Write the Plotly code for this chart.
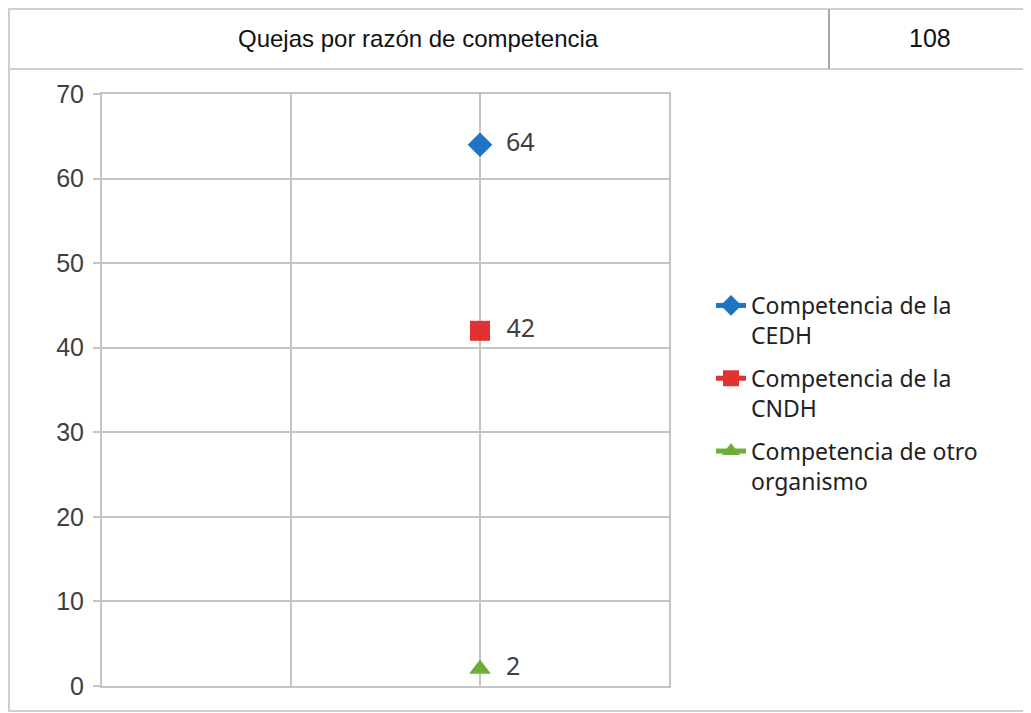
import plotly.graph_objects as go

# Data
series_names = [
    "Competencia de la<br>CEDH",
    "Competencia de la<br>CNDH",
    "Competencia de otro<br>organismo",
]
series_values = [64, 42, 2]
series_x = [2, 2, 2]
series_colors = ["#1F74C4", "#E03232", "#6EAD3A"]
series_symbols = ["diamond", "square", "triangle-up"]
marker_sizes = [19, 20, 19]

header_label = "Quejas por razón de competencia"
header_total = "108"

y_ticks = [0, 10, 20, 30, 40, 50, 60, 70]

# page-pixel layout (browser adds an 8px body margin)
OFF = 8
W, H = 1031 - OFF, 713 - OFF
L, R, T, B = 102, 669, 94, 686  # plot area, page pixels

GRID = "#C4C4C4"
TEXT = "#404040"


def px_x(x):
    return (x - L) / (R - L)


def px_y(y):
    return (B - y) / (B - T)


fig = go.Figure()

for name, val, x, color, sym, size in zip(
    series_names, series_values, series_x, series_colors, series_symbols, marker_sizes
):
    fig.add_trace(
        go.Scatter(
            x=[x],
            y=[val],
            name=name,
            legendgroup=name,
            mode="lines+markers+text",
            text=["  " + str(val)],
            textposition="middle right",
            textfont=dict(size=25, color=TEXT, family="Noto Sans"),
            line=dict(color=color, width=5),
            marker=dict(color=color, symbol=sym, size=size),
            cliponaxis=False,
        )
    )

shapes = [
    # outer frame
    dict(type="rect", xref="paper", yref="paper",
         x0=px_x(9), x1=px_x(1028), y0=px_y(711), y1=px_y(9),
         line=dict(color="#D0D0D0", width=2), layer="below"),
    # header bottom line
    dict(type="line", xref="paper", yref="paper",
         x0=px_x(9), x1=px_x(1028), y0=px_y(69), y1=px_y(69),
         line=dict(color="#D0D0D0", width=2)),
    # header column separator
    dict(type="line", xref="paper", yref="paper",
         x0=px_x(829), x1=px_x(829), y0=px_y(9), y1=px_y(69),
         line=dict(color="#A8A8A8", width=2)),
]

annotations = [
    dict(text=header_label, xref="paper", yref="paper",
         x=px_x(418), y=px_y(38), showarrow=False,
         xanchor="center", yanchor="middle",
         font=dict(size=24, color="#111111", family="Liberation Sans")),
    dict(text=header_total, xref="paper", yref="paper",
         x=px_x(930), y=px_y(38), showarrow=False,
         xanchor="center", yanchor="middle",
         font=dict(size=25, color="#111111", family="Liberation Sans")),
]

fig.update_layout(
    width=W,
    height=H,
    margin=dict(l=L - OFF, r=W - (R - OFF), t=T - OFF, b=H - (B - OFF)),
    paper_bgcolor="white",
    plot_bgcolor="white",
    shapes=shapes,
    annotations=annotations,
    showlegend=True,
    legend=dict(
        x=px_x(711), y=px_y(284), xanchor="left", yanchor="top",
        font=dict(size=23, color="#222222", family="Noto Sans"),
        tracegroupgap=10,
        valign="top",
        itemwidth=30,
    ),
    xaxis=dict(
        range=[0, 3], dtick=1, showticklabels=False,
        showgrid=True, gridcolor=GRID, gridwidth=2,
        showline=True, linecolor=GRID, linewidth=2, mirror=True,
        zeroline=False, ticks="",
    ),
    yaxis=dict(
        range=[0, 70], tickvals=y_ticks,
        showgrid=True, gridcolor=GRID, gridwidth=2,
        showline=True, linecolor=GRID, linewidth=2, mirror=True,
        zeroline=False, ticks="outside", ticklen=7, tickcolor=GRID, tickwidth=2,
        tickfont=dict(size=25, color=TEXT, family="Liberation Sans"),
        ticklabelstandoff=4,
    ),
)

fig.write_html("out.html")
